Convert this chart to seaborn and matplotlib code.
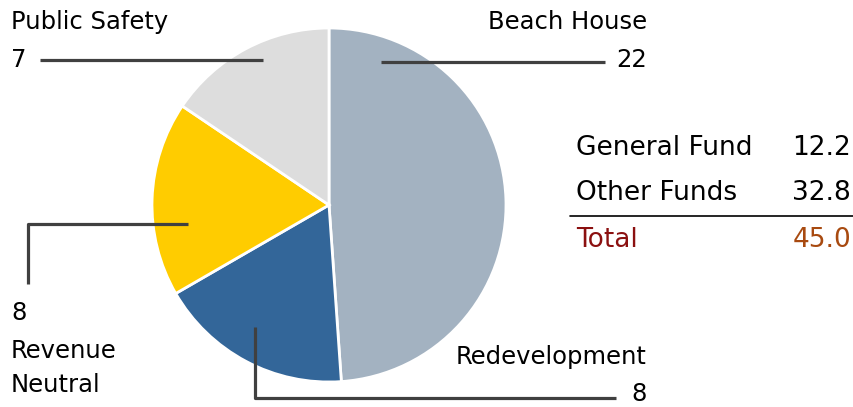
import matplotlib.pyplot as plt
import seaborn as sns

sns.set_theme(style="white")
plt.rcParams['font.family'] = ['DejaVu Sans']
plt.rcParams['text.color'] = 'black'

# pie data (clockwise from the top)
labels = ['Beach House', 'Redevelopment', 'Revenue\nNeutral', 'Public Safety']
values = [22, 8, 8, 7]
colors = ['#a3b2c1', '#336699', '#ffcc00', '#dddddd']

# summary table
fund_names = ['General Fund', 'Other Funds']
fund_values = [12.2, 32.8]
total_value = 45.0

W, H = 854, 407
fig = plt.figure(figsize=(W / 100, H / 100), dpi=100)
ax = fig.add_axes([0, 0, 1, 1])

def y(py):
    # pixel row -> data y (axis points upwards)
    return H - py

ax.pie(values, colors=colors, startangle=90, counterclock=False,
       center=(329, y(205)), radius=177,
       wedgeprops=dict(edgecolor='white', linewidth=2))
ax.set_xlim(0, W)
ax.set_ylim(0, H)
ax.set_aspect('equal')
ax.axis('off')

fs = 17.5
tfs = 19
line_kw = dict(color='#404040', lw=2.3, solid_capstyle='butt')

# Beach House
ax.plot([381, 605], [y(62), y(62)], **line_kw)
ax.text(647, y(22), labels[0], ha='right', va='center', fontsize=fs)
ax.text(647, y(60), str(values[0]), ha='right', va='center', fontsize=fs)

# Public Safety
ax.plot([40, 263], [y(60), y(60)], **line_kw)
ax.text(11, y(22), labels[3], ha='left', va='center', fontsize=fs)
ax.text(11, y(60), str(values[3]), ha='left', va='center', fontsize=fs)

# Revenue Neutral
ax.plot([188, 28, 28], [y(224), y(224), y(284)], **line_kw)
ax.text(11, y(313), str(values[2]), ha='left', va='center', fontsize=fs)
ax.text(11, y(368), labels[2], ha='left', va='center', fontsize=fs,
        linespacing=1.5)

# Redevelopment
ax.plot([255, 255, 616], [y(327), y(398), y(398)], **line_kw)
ax.text(647, y(357), labels[1], ha='right', va='center', fontsize=fs)
ax.text(647, y(394), str(values[1]), ha='right', va='center', fontsize=fs)

# table on the right
rows_y = [148, 193]
for name, val, ry in zip(fund_names, fund_values, rows_y):
    ax.text(576, y(ry), name, ha='left', va='center', fontsize=tfs)
    ax.text(851, y(ry), f'{val:.1f}', ha='right', va='center', fontsize=tfs)
ax.plot([570, 854], [y(216), y(216)], color='black', lw=1.2)
ax.text(576, y(240), 'Total', ha='left', va='center', fontsize=tfs,
        color='#8b1010')
ax.text(851, y(240), f'{total_value:.1f}', ha='right', va='center',
        fontsize=tfs, color='#a84a10')

fig.savefig('out.png', dpi=100)
